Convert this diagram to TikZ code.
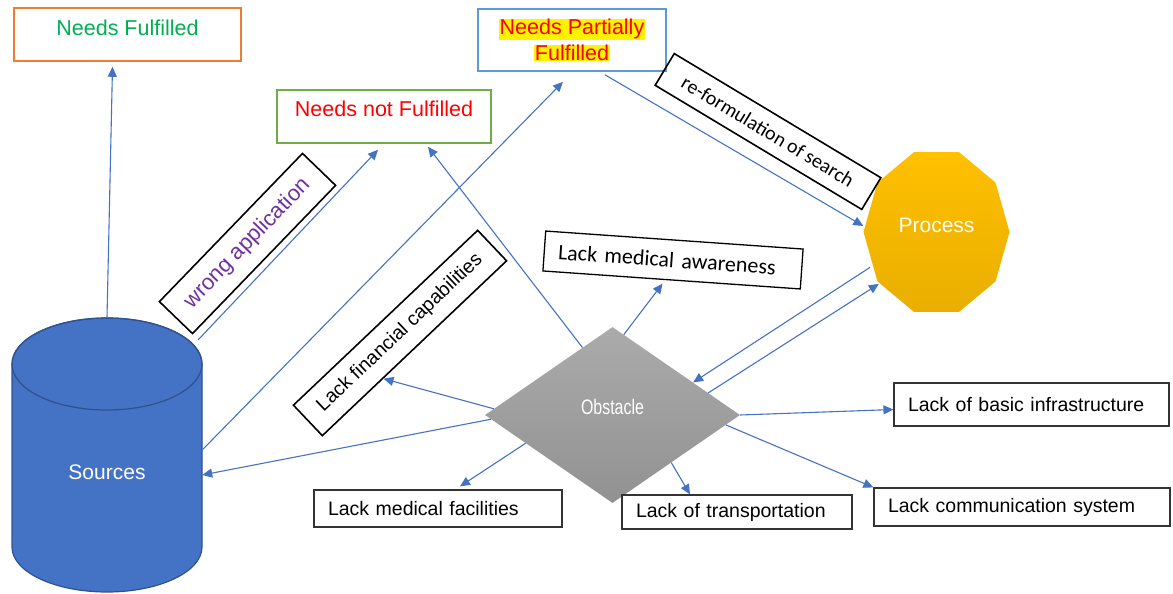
\documentclass[tikz,border=0pt]{standalone}
\usepackage{fontspec}
\setmainfont{Liberation Sans}
\newfontfamily\calfont{Carlito}
\newfontfamily\narrowfont[FakeStretch=0.76]{Liberation Sans}
\usetikzlibrary{shapes.geometric,arrows.meta,calc}
\definecolor{linkblue}{HTML}{4472C4}
\definecolor{srcblue}{HTML}{4472C4}
\definecolor{srcedge}{HTML}{2F528F}
\definecolor{okgreen}{HTML}{00B050}
\definecolor{boxorange}{HTML}{ED7D31}
\definecolor{boxgreen}{HTML}{70AD47}
\definecolor{boxblue}{HTML}{5B9BD5}
\definecolor{wrongpurple}{HTML}{7030A0}
\definecolor{procyellow}{HTML}{FFC000}
\definecolor{procdark}{HTML}{E9AE00}
\newcommand\hilite[1]{{\setlength{\fboxsep}{0.5pt}\colorbox{yellow}{#1}}}

\begin{document}
\begin{tikzpicture}
  [x=1pt,y=-1pt,
   every node/.style={inner sep=0pt,font=\fontsize{19.5}{23}\selectfont},
   head/.style={draw,line width=1.6pt,font=\fontsize{21.5}{26}\selectfont,align=center},
   tag/.style={draw=black,line width=1.6pt,align=center},
   lack/.style={draw=black!80,line width=1.2pt,inner xsep=14pt,align=left},
   link/.style={draw=linkblue,line width=1.1pt,-{Triangle[length=10pt,width=9pt]}}]
  \useasboundingbox (0,0) rectangle (1173,594);

  % outcomes
  \node[head,draw=boxorange,text=okgreen,minimum width=227,minimum height=53,text depth=13pt] (nf) at (127.5,34.5) {Needs Fulfilled};
  \node[head,draw=boxgreen,text=red,minimum width=214,minimum height=53,text depth=15pt] (nnf) at (384,116.5) {Needs not Fulfilled};
  \node[head,draw=boxblue,text=red,minimum width=188,minimum height=62] (npf) at (572,40) {\hilite{Needs Partially}\\\hilite{Fulfilled}};

  % sources cylinder
  \path[fill=srcblue,draw=srcedge,line width=1.2pt] (12,364) -- (12,547)
    arc[start angle=180,end angle=360,x radius=95pt,y radius=45pt] -- (202,364)
    arc[start angle=0,end angle=180,x radius=95pt,y radius=46pt] -- cycle;
  \draw[srcedge,line width=1.2pt] (107,364) ellipse[x radius=95pt,y radius=46pt];
  \node[minimum width=190,minimum height=274,text=white,text height=49pt,font=\fontsize{21}{25}\selectfont] (src) at (107,455) {Sources};

  % process
  \shade[top color=procyellow,bottom color=procdark]
    plot[samples at={0,36,...,324}] ({936.5+73*cos(\x)},{232+84*sin(\x)}) -- cycle;
  \node[ellipse,minimum width=146,minimum height=168,text=white,text depth=14pt,font=\fontsize{21}{25}\selectfont] (proc) at (936.5,232) {Process};

  % obstacle
  \node[diamond,minimum width=255,minimum height=176,top color=black!33,bottom color=black!43,text=white,text depth=17pt,font=\narrowfont\fontsize{21}{25}\selectfont] (obs) at (612.5,415) {Obstacle};

  % tilted labels
  \node[tag,rotate=46,minimum width=206,minimum height=46,text=wrongpurple,font=\fontsize{22}{26}\selectfont] (wa) at (247.5,243.5) {wrong application};
  \node[tag,rotate=43.5,minimum width=254,minimum height=42] (fin) at (400,333) {Lack financial capabilities};
  \node[tag,rotate=-31,minimum width=241,minimum height=37,font=\calfont\fontsize{20}{24}\selectfont] (ref) at (768,131.5) {re-formulation of search};
  \node[tag,line width=1.3pt,rotate=-4,minimum width=258,minimum height=40,inner xsep=14pt,text width=230pt,align=left,font=\calfont\fontsize{22}{26}\selectfont] (aw) at (673,260) {Lack medical awareness};

  % lacks
  \node[lack,text width=247pt,minimum height=43] (inf) at (1031.5,404.5) {Lack of basic infrastructure};
  \node[lack,text width=268pt,minimum height=38] (com) at (1022,507) {Lack communication system};
  \node[lack,text width=220pt,minimum height=37] (fac) at (438,508.5) {Lack medical facilities};
  \node[lack,text width=202pt,minimum height=34] (trans) at (737,512) {Lack of transportation};

  % free ends
  \coordinate (nf in) at ([xshift=-15pt,yshift=-5pt]nf.south);
  \coordinate (wa out) at ([xshift=-4pt,yshift=-22pt]src.north east);
  \coordinate (nnf in) at ([xshift=-6pt,yshift=-6pt]nnf.south);
  \coordinate (nnf in2) at ([xshift=44pt,yshift=-3pt]nnf.south);
  \coordinate (src up) at ([yshift=5pt]src.east);
  \coordinate (src in) at ([yshift=-20pt]src.east);
  \coordinate (npf in) at ([xshift=-9pt,yshift=-10pt]npf.south);
  \coordinate (npf out) at ([xshift=33pt,yshift=-3pt]npf.south);
  \coordinate (proc in) at ([yshift=6pt]proc.west);
  \coordinate (aw in) at ([shift={(-9pt,-3pt)}]aw.south);
  \coordinate (fin in) at ($(fin.south west)!0.33!(fin.south east)$);
  \coordinate (fac in) at ([xshift=22pt,yshift=3pt]fac.north);
  \coordinate (trans in) at ([xshift=-47pt]trans.north);
  \coordinate (inf in) at ([yshift=-5pt]inf.west);

  \foreach \from/\to in {src.north/nf in,wa out/nnf in,src up/npf in,obs.114/nnf in2,
      npf out/proc in,proc.208/obs.22,obs.13/proc.222,obs.82/aw in,obs.177/fin in,
      obs.182/src in,obs.198/fac in,obs.-39/trans in,obs.east/inf in,obs.-5/com.north west}
    \draw[link] (\from) -- (\to);
\end{tikzpicture}
\end{document}
